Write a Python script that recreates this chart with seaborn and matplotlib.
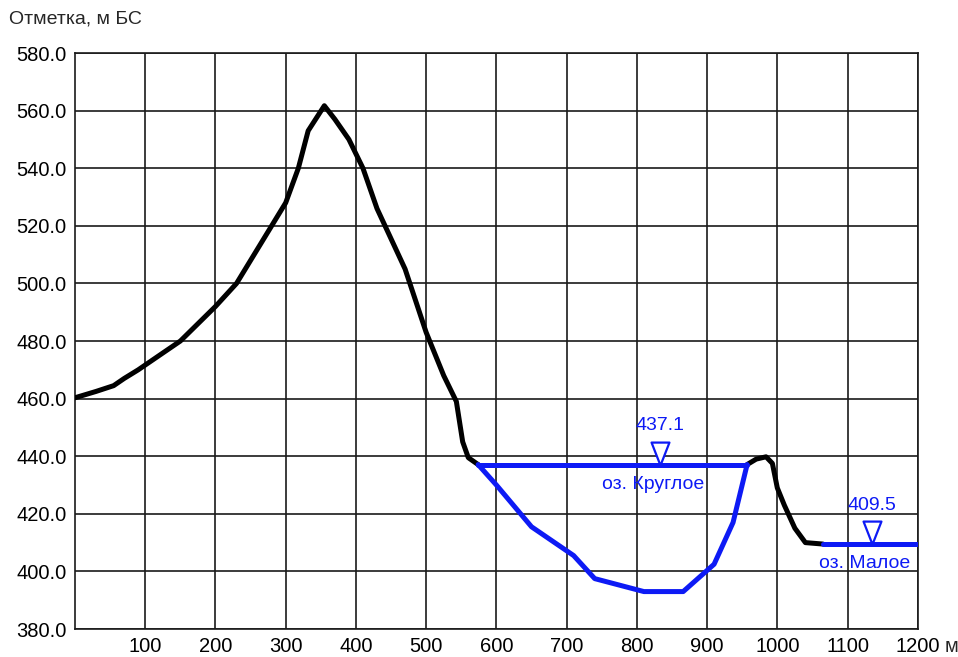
import numpy as np
import pandas as pd
import matplotlib
matplotlib.use('Agg')
import matplotlib.pyplot as plt
from matplotlib.path import Path
import seaborn as sns

# ground profile (distance, m / elevation, m BS)
ground_left_x = [0, 30, 55, 70, 90, 150, 200, 230, 265, 300, 318, 332, 355,
                 370, 390, 410, 430, 470, 500, 525, 543, 552, 560, 574]
ground_left_y = [460.3, 462.5, 464.5, 467, 470, 480, 492, 500, 514, 528, 540, 553, 561.7,
                 557, 550, 540, 526, 505, 483, 468, 459, 445, 439.5, 437.1]
ground_right_x = [957, 970, 984, 993, 1000, 1010, 1025, 1040, 1065]
ground_right_y = [437.1, 439, 439.8, 437.5, 429, 423, 415, 410, 409.5]

# lake Krugloe bottom
lake_bed_x = [574, 600, 650, 710, 740, 810, 866, 910, 937, 957]
lake_bed_y = [437.1, 430, 415.5, 405.5, 397.5, 393, 393, 402.5, 417, 437.1]

# water levels
lake_names = ['оз. Круглое', 'оз. Малое']
lake_levels = [437.1, 409.5]
lake_from = [574, 1065]
lake_to = [957, 1200]
mark_x = [833, 1135]
name_x = [823, 1125]

x_ticks = list(range(100, 1300, 100))
y_ticks = list(range(380, 600, 20))

sns.set_style('white')
plt.rcParams['font.family'] = ['Liberation Sans', 'DejaVu Sans']

fig = plt.figure(figsize=(9.58, 6.57), dpi=100)
ax = fig.add_axes([0.0783, 0.0426, 0.8797, 0.8767])

blue = '#0d1af5'
black = '#000000'

for xs, ys in [(ground_left_x, ground_left_y), (ground_right_x, ground_right_y)]:
    df = pd.DataFrame({'x': xs, 'y': ys})
    sns.lineplot(data=df, x='x', y='y', sort=False, color=black, lw=3.6,
                 ax=ax, zorder=4, solid_joinstyle='round')

df_bed = pd.DataFrame({'x': lake_bed_x, 'y': lake_bed_y})
sns.lineplot(data=df_bed, x='x', y='y', sort=False, color=blue, lw=3.6,
             ax=ax, zorder=5, solid_joinstyle='round')

tri = Path([(0, 0), (-0.39, 1), (0.39, 1), (0, 0)],
           [Path.MOVETO, Path.LINETO, Path.LINETO, Path.CLOSEPOLY])

for name, lvl, x0, x1, mx, nx in zip(lake_names, lake_levels, lake_from, lake_to, mark_x, name_x):
    df_w = pd.DataFrame({'x': [x0, x1], 'y': [lvl, lvl]})
    sns.lineplot(data=df_w, x='x', y='y', color=blue, lw=3.6, ax=ax, zorder=5)
    ax.plot([mx], [lvl], marker=tri, ms=33, mfc='white', mec=blue, mew=1.6,
            ls='none', zorder=6)
    ax.annotate(f'{lvl:.1f}', (mx, lvl), xytext=(0, 28), textcoords='offset points',
                ha='center', va='center', color=blue, fontsize=14)
    ax.annotate(name, (nx, lvl), xytext=(0, -14), textcoords='offset points',
                ha='center', va='center', color=blue, fontsize=14)

ax.set_xlim(0, 1200)
ax.set_ylim(380, 580)
ax.set_xticks(x_ticks)
ax.set_yticks(y_ticks)
ax.set_xticklabels([str(v) for v in x_ticks])
ax.set_yticklabels([f'{v:.1f}' for v in y_ticks])
ax.tick_params(axis='both', labelsize=14.5, length=0, pad=6, colors='black')
ax.grid(True, color='#1a1a1a', lw=1.2)
ax.set_axisbelow(True)
for s in ax.spines.values():
    s.set_visible(True)
    s.set_color('#1a1a1a')
    s.set_linewidth(1.2)
ax.set_xlabel('')
ax.set_ylabel('')

ax.annotate('м', (1, 0), xycoords='axes fraction', xytext=(19, -6),
            textcoords='offset points', ha='left', va='top', fontsize=14.5)
fig.text(9 / 958, 1 - 19 / 657, 'Отметка, м БС', ha='left', va='center', fontsize=14)

fig.savefig('out.png', dpi=100)
